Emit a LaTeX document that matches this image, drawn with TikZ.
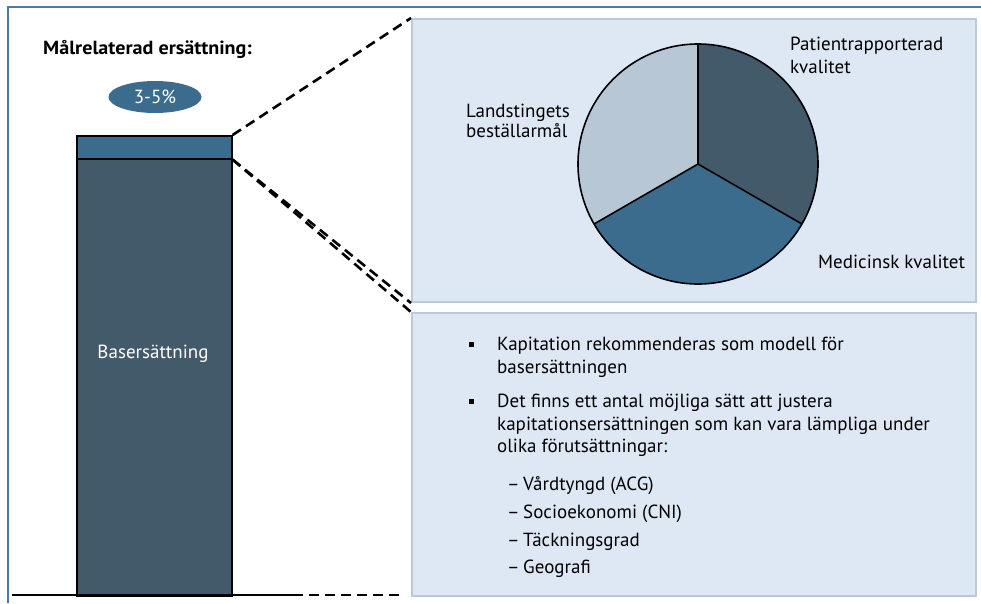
\documentclass[tikz,border=0pt]{standalone}
\usepackage{fontspec}
\setmainfont{PT Sans}
\newfontfamily\titlefont{PT Sans}[FakeStretch=1.06]
\usetikzlibrary{shapes.geometric}
\definecolor{frameblue}{HTML}{4B7BA4}
\definecolor{bardark}{HTML}{435A6B}
\definecolor{barblue}{HTML}{3B6C8E}
\definecolor{slicelight}{HTML}{B8C7D5}
\definecolor{panelfill}{HTML}{DEE8F4}
\definecolor{panelline}{HTML}{BBCAD9}
\tikzset{
  txt/.style={inner sep=0pt, anchor=base west, font=\fontsize{19}{23}\selectfont},
  wtxt/.style={inner sep=0pt, text=white, font=\fontsize{19}{23}\selectfont},
  panel/.style={rectangle, draw=panelline, fill=panelfill, line width=2pt, anchor=north west, inner sep=0pt, minimum width=564pt, minimum height=283pt},
  barpart/.style={rectangle, draw=black, line width=1.6pt, anchor=north west, inner sep=0pt, minimum width=155pt},
  dashline/.style={line width=2.6pt, dash pattern=on 10pt off 6pt},
  bulletsq/.style={rectangle, fill=black, inner sep=0pt, minimum size=5pt},
}
\begin{document}
\begin{tikzpicture}[x=1pt,y=-1pt]
\useasboundingbox (0,0) rectangle (981,603);
% frame
\draw[frameblue, line width=2pt] (8,603) -- (8,7) -- (981,7);
% panels
\node[panel] (pie) at (411,18) {};
\node[panel] (list) at (411,312) {};
% bar
\node[barpart, fill=barblue, minimum height=23pt] (goal) at (76,135) {};
\node[barpart, fill=bardark, minimum height=437pt] (base) at (76,158) {};
\node[wtxt, anchor=base] (basetxt) at (153,358) {Basersättning};
% title and percentage
\node[txt, font=\titlefont\fontsize{19}{23}\selectfont\bfseries] (title) at (43,54) {Målrelaterad ersättning:};
\node[ellipse, fill=barblue, minimum width=93pt, minimum height=32pt, inner sep=0pt, text=white, font=\fontsize{19}{23}\selectfont] (pct) at (155,97) {3-5\%};
% baseline
\coordinate (bl) at (12,595);
\coordinate (bm) at (293,595);
\coordinate (be) at (405,595);
\draw[line width=2pt] (bl) -- (bm);
\draw[dashline] (bm) -- (be);
% connectors
\draw[dashline] (goal.north east) -- (pie.north west);
\draw[dashline] (goal.south east) -- (pie.south west);
\draw[dashline] (goal.south east) -- (list.north west);
% pie
\coordinate (pc) at (698,164);
\fill[bardark] (pc) -- ++(90:120pt) arc[start angle=90, end angle=-30, radius=120pt] -- cycle;
\fill[barblue] (pc) -- ++(-30:120pt) arc[start angle=-30, end angle=-150, radius=120pt] -- cycle;
\fill[slicelight] (pc) -- ++(-150:120pt) arc[start angle=-150, end angle=-270, radius=120pt] -- cycle;
\draw[line width=1.6pt] (pc) circle[radius=120pt];
\draw[line width=1.6pt] (pc) -- ++(90:120pt);
\draw[line width=1.6pt] (pc) -- ++(-30:120pt);
\draw[line width=1.6pt] (pc) -- ++(-150:120pt);
% pie labels
\node[txt] (pl1) at (790,50) {Patientrapporterad};
\node[txt] (pl2) at (790,73) {kvalitet};
\node[txt] (ml) at (818,268) {Medicinsk kvalitet};
\node[txt] (ll1) at (466,117) {Landstingets};
\node[txt] (ll2) at (466,137) {beställarmål};
% list
\node[bulletsq] (b1) at (471,344) {};
\node[txt] (t1a) at (497,350) {Kapitation rekommenderas som modell för};
\node[txt] (t1b) at (497,373) {basersättningen};
\node[bulletsq] (b2) at (471,401) {};
\node[txt] (t2a) at (497,407) {Det finns ett antal möjliga sätt att justera};
\node[txt] (t2b) at (497,430) {kapitationsersättningen som kan vara lämpliga under};
\node[txt] (t2c) at (497,452) {olika förutsättningar:};
\node[txt] (d1) at (507,490) {–};
\node[txt] (s1) at (523,490) {Vårdtyngd (ACG)};
\node[txt] (d2) at (507,518) {–};
\node[txt] (s2) at (523,518) {Socioekonomi (CNI)};
\node[txt] (d3) at (507,546) {–};
\node[txt] (s3) at (523,546) {Täckningsgrad};
\node[txt] (d4) at (507,573) {–};
\node[txt] (s4) at (523,573) {Geografi};
\end{tikzpicture}
\end{document}
